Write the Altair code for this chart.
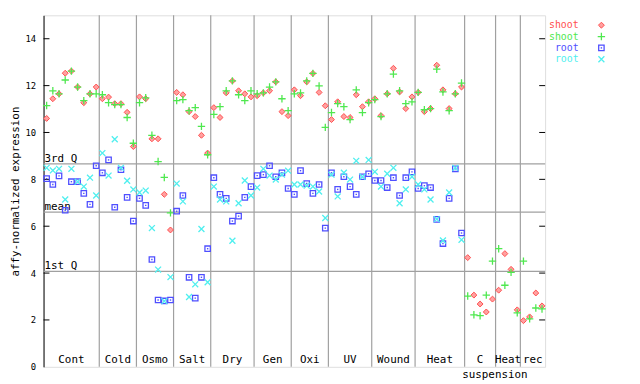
import altair as alt
import pandas as pd

# ---------------- data ----------------
groups = ["Cont", "Cold", "Osmo", "Salt", "Dry", "Gen", "Oxi", "UV", "Wound",
          "Heat", "C", "Heat", "rec"]
group_sizes = [9, 6, 6, 6, 7, 6, 6, 7, 7, 8, 5, 4, 4]

shoot_red = [
    10.60, 11.44, 11.65, 12.53, 12.62, 11.94, 11.27, 11.65, 11.94,
    11.44, 11.51, 11.23, 11.23, 10.86, 9.40,
    11.52, 11.44, 9.73, 9.73, 7.36, 5.84,
    11.71, 11.61, 10.89, 10.68, 9.88, 9.12,
    11.06, 10.64, 11.69, 12.20, 11.78, 11.65, 11.52,
    11.57, 11.69, 11.78, 12.16, 10.89, 10.72,
    11.82, 11.57, 12.16, 12.52, 11.71, 11.14,
    10.55, 11.31, 10.68, 10.64, 11.61, 11.10, 11.31,
    11.44, 10.72, 11.65, 12.74, 11.73, 11.02, 11.52,
    11.71, 10.89, 11.02, 12.87, 11.82, 11.02, 11.65, 11.94,
    4.66, 3.06, 2.68, 2.34, 2.89,
    3.27, 4.83, 4.16, 2.43,
    1.97, 2.13, 3.15, 2.60,
]
shoot_green = [
    11.15, 11.78, 11.65, 12.24, 12.62, 11.94, 11.36, 11.65, 11.65,
    11.61, 11.27, 11.19, 11.19, 10.64, 9.54,
    11.27, 11.48, 9.88, 8.76, 8.08, 6.57,
    11.36, 11.40, 10.93, 11.06, 10.26, 9.05,
    10.77, 11.10, 11.78, 12.20, 11.61, 11.36, 11.78,
    11.65, 11.69, 11.94, 12.16, 11.44, 10.93,
    11.65, 11.69, 12.20, 12.52, 11.99, 10.22,
    10.85, 11.23, 11.10, 10.55, 11.82, 10.85, 11.27,
    11.40, 10.68, 11.65, 12.49, 11.78, 11.23, 11.31,
    11.71, 10.97, 11.02, 12.70, 11.73, 10.93, 11.65, 12.11,
    3.02, 2.22, 2.18, 3.06, 4.51,
    5.04, 3.48, 4.03, 2.30,
    4.51, 2.05, 2.51, 2.47,
]
root_blue = [
    8.03, 7.78, 8.15, 6.68, 7.90, 7.90, 7.40, 6.93, 8.58,
    8.28, 8.83, 6.81, 8.41, 7.23, 6.22,
    7.19, 6.89, 4.58, 2.85, 2.81, 2.85,
    6.64, 7.31, 3.82, 2.93, 3.82, 5.04,
    8.07, 7.36, 7.19, 6.22, 6.43, 7.23, 7.69,
    8.16, 8.20, 8.58, 8.11, 8.28, 7.61,
    7.36, 8.37, 7.82, 7.40, 7.78, 5.92,
    8.28, 7.57, 8.11, 7.69, 7.36, 8.11, 8.24,
    7.95, 7.95, 7.65, 8.07, 7.31, 8.07, 8.32,
    7.61, 7.73, 7.65, 6.29, 5.26, 7.19, 8.45, 5.71,
]
root_cyan = [
    8.49, 8.38, 8.45, 7.14, 8.45, 7.90, 7.69, 8.07, 7.31,
    9.12, 8.16, 9.71, 8.49, 7.94, 7.57,
    7.44, 7.52, 5.92, 4.15, 2.80, 3.83,
    7.82, 7.06, 2.98, 3.52, 5.88, 3.61,
    7.69, 7.14, 7.06, 5.38, 6.98, 7.95, 7.31,
    7.65, 8.45, 8.16, 7.99, 8.20, 8.37,
    7.78, 7.78, 7.73, 7.69, 7.48, 6.35,
    8.20, 7.27, 8.28, 7.99, 8.79, 8.11, 8.83,
    8.32, 7.69, 8.24, 8.49, 6.98, 7.57, 8.11,
    7.78, 7.57, 7.14, 6.30, 5.39, 7.44, 8.49, 5.42,
]
quartile_names = ["3rd Q", "mean", "1st Q"]
quartile_values = [8.66, 6.60, 4.07]
y_ticks = [0, 2, 4, 6, 8, 10, 12, 14]
legend_labels = ["shoot", "shoot", "root", "root"]

# ---------------- styling ----------------
FONT = "DejaVu Sans Mono"
RED, GREEN, BLUE, CYAN = "#ff4f4f", "#4fe84f", "#4f4fff", "#4fefef"
GRAY = "#a0a0a0"
PLUS = "M-1,0L1,0M0,-1L0,1"
XSHAPE = "M-1,-1L1,1M-1,1L1,-1"

n = sum(group_sizes)
W, H = 508, 356
xs = alt.Scale(domain=[0, n], nice=False, zero=False)
ys = alt.Scale(domain=[0, 15], nice=False, zero=False)
YAXIS = alt.Axis(
    values=y_ticks, ticks=False, grid=False, domainColor="black",
    labelFont=FONT, labelFontSize=9, labelColor="black", labelPadding=8,
    title="affy-normalized expression", titleFont=FONT, titleFontSize=11,
    titleFontWeight="normal", titleColor="black", titlePadding=5)

# points table
rows = []
for name, vals in [("red", shoot_red), ("green", shoot_green),
                   ("blue", root_blue), ("cyan", root_cyan)]:
    for i, v in enumerate(vals):
        rows.append({"series": name, "x": i + 0.5, "y": v})
pts = pd.DataFrame(rows)

# group separators and label centres
bounds, centers, acc = [], [], 0
for s in group_sizes:
    centers.append(acc + s / 2)
    acc += s
    bounds.append(acc)
sep_df = pd.DataFrame({"x": bounds[:-1]})
lab_df = pd.DataFrame({"x": centers, "label": groups})
q_df = pd.DataFrame({"y": quartile_values, "label": quartile_names})
tick_df = pd.DataFrame({"y": [t for t in y_ticks if t > 0]})

X = lambda: alt.X("x:Q", scale=xs, axis=None)
Y = lambda: alt.Y("y:Q", scale=ys, axis=YAXIS)

seps = alt.Chart(sep_df).mark_rule(color=GRAY, strokeWidth=1.2).encode(x=X())
qlines = alt.Chart(q_df).mark_rule(color=GRAY, strokeWidth=1.2).encode(y=Y())
qtext = alt.Chart(q_df).mark_text(
    align="left", baseline="alphabetic", dy=-2, font=FONT, fontSize=11, color="black"
).encode(x=alt.value(1), y=Y(), text="label:N")

lticks = alt.Chart(tick_df).mark_rule(color="black").encode(
    y=Y(), x=alt.value(0), x2=alt.value(6))
rticks = alt.Chart(tick_df).mark_rule(color="black").encode(
    y=Y(), x=alt.value(W - 6), x2=alt.value(W))

def series(name):
    return alt.Chart(pts).transform_filter(alt.datum.series == name)

p_red = series("red").mark_point(shape="diamond", filled=True, fill="#ffa0a0",
                                 stroke=RED, strokeWidth=1, size=36, opacity=1
                                 ).encode(x=X(), y=Y())
p_green = series("green").mark_point(shape=PLUS, filled=False, color=GREEN,
                                     strokeWidth=1.3, size=56, opacity=1
                                     ).encode(x=X(), y=Y())
p_blue = series("blue").mark_point(shape="square", filled=False, color=BLUE,
                                   strokeWidth=1.3, size=30, opacity=1
                                   ).encode(x=X(), y=Y())
p_blue_dot = series("blue").mark_square(color=BLUE, size=2, opacity=1
                                        ).encode(x=X(), y=Y())
p_cyan = series("cyan").mark_point(shape=XSHAPE, filled=False, color=CYAN,
                                   strokeWidth=1.3, size=36, opacity=1
                                   ).encode(x=X(), y=Y())

glabels = alt.Chart(lab_df).mark_text(
    baseline="middle", font=FONT, fontSize=11, color="black"
).encode(x=X(), y=alt.value(H - 7), text="label:N")
susp = alt.Chart(lab_df[lab_df.label == "C"]).mark_text(
    baseline="middle", font=FONT, fontSize=11, color="black", dx=15, text="suspension"
).encode(x=X(), y=alt.value(H + 8))

# legend (manual)
leg_layers = []
leg_colors = [RED, GREEN, BLUE, CYAN]
leg_y = [10, 21.5, 33, 44.5]
leg_df = pd.DataFrame({"label": legend_labels, "k": range(4)})
for k in range(4):
    d = leg_df[leg_df.k == k]
    leg_layers.append(alt.Chart(d).mark_text(
        align="right", baseline="middle", font=FONT, fontSize=10, color=leg_colors[k]
    ).encode(x=alt.value(542), y=alt.value(leg_y[k]), text="label:N"))
mk = [
    dict(shape="diamond", filled=True, fill="#ffa0a0", stroke=RED, strokeWidth=1, size=36),
    dict(shape=PLUS, filled=False, color=GREEN, strokeWidth=1.3, size=56),
    dict(shape="square", filled=False, color=BLUE, strokeWidth=1.3, size=30),
    dict(shape=XSHAPE, filled=False, color=CYAN, strokeWidth=1.3, size=36),
]
for k in range(4):
    d = leg_df[leg_df.k == k]
    leg_layers.append(alt.Chart(d).mark_point(opacity=1, **mk[k]).encode(
        x=alt.value(565), y=alt.value(leg_y[k])))
leg_layers.append(alt.Chart(leg_df[leg_df.k == 2]).mark_square(
    color=BLUE, size=2, opacity=1).encode(x=alt.value(565), y=alt.value(leg_y[2])))

chart = alt.layer(
    seps, qlines, qtext, lticks, rticks,
    p_red, p_green, p_blue, p_blue_dot, p_cyan,
    glabels, susp, *leg_layers
).properties(
    width=W, height=H,
    autosize=alt.AutoSizeParams(type="none"),
    padding={"left": 36, "top": 5, "right": 88, "bottom": 15},
).configure_view(stroke="black", strokeWidth=1).configure(background="white")

chart.save("out.html", embed_options={"renderer": "svg", "actions": False})
